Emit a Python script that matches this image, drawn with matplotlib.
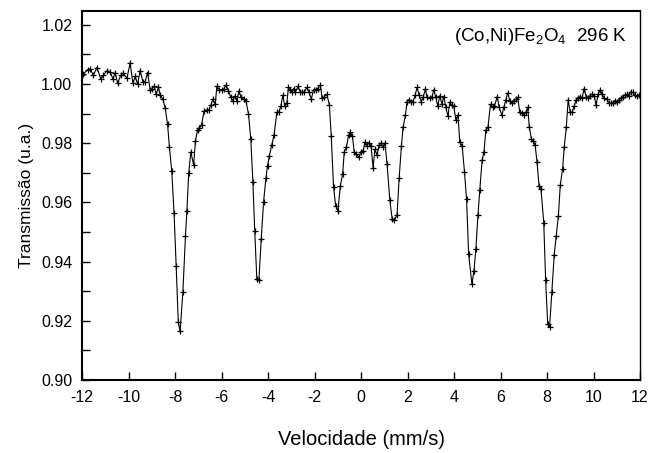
import matplotlib
matplotlib.use("Agg")
import matplotlib.pyplot as plt
from matplotlib.ticker import MultipleLocator

plt.rcParams['font.family'] = ['Liberation Sans', 'DejaVu Sans']
plt.rcParams['mathtext.fontset'] = 'custom'
plt.rcParams['mathtext.rm'] = 'Liberation Sans'
plt.rcParams['mathtext.default'] = 'regular'

velocity = [
    -11.98, -11.94, -11.76, -11.65, -11.51, -11.36, -11.19, -11.08, -10.93, -10.79, -10.67, -10.57,
    -10.47, -10.33, -10.22, -10.07, -9.93, -9.81, -9.71, -9.61, -9.50, -9.38, -9.28, -9.18,
    -9.07, -9.00, -8.90, -8.81, -8.71, -8.64, -8.52, -8.42, -8.32, -8.24, -8.14, -8.04,
    -7.95, -7.86, -7.78, -7.66, -7.55, -7.49, -7.41, -7.32, -7.20, -7.12, -7.03, -6.95,
    -6.86, -6.75, -6.63, -6.54, -6.46, -6.37, -6.27, -6.20, -6.09, -5.99, -5.91, -5.80,
    -5.70, -5.60, -5.51, -5.41, -5.34, -5.25, -5.17, -5.05, -4.95, -4.84, -4.74, -4.65,
    -4.57, -4.48, -4.39, -4.29, -4.19, -4.09, -4.02, -3.94,
    -3.84, -3.74, -3.62, -3.53, -3.45, -3.36, -3.28, -3.19, -3.12, -3.05, -2.96, -2.90,
    -2.82, -2.70, -2.61, -2.53, -2.44, -2.33, -2.24, -2.14, -2.04, -1.95, -1.87, -1.75,
    -1.67, -1.57, -1.47, -1.36, -1.28, -1.18, -1.09, -0.99, -0.89, -0.79, -0.72, -0.63,
    -0.53, -0.46, -0.37, -0.29, -0.20, -0.09, 0.00, 0.09, 0.17, 0.26, 0.34, 0.43,
    0.52, 0.60, 0.69, 0.78, 0.86, 0.95, 1.03, 1.12, 1.24, 1.34, 1.44, 1.55,
    1.64, 1.74, 1.81, 1.91, 1.98, 2.05, 2.16, 2.24, 2.33, 2.41, 2.50, 2.59,
    2.67, 2.77, 2.84, 2.96, 3.06, 3.13, 3.22, 3.30, 3.39, 3.48, 3.56, 3.65,
    3.74, 3.82, 3.91, 3.99, 4.08, 4.17, 4.25, 4.35, 4.45, 4.54, 4.63,
    4.77, 4.86, 4.94, 5.03, 5.11, 5.21, 5.29, 5.37, 5.46, 5.57, 5.66, 5.74,
    5.86, 5.94, 6.06, 6.14, 6.23, 6.31, 6.40, 6.50, 6.57, 6.66, 6.74, 6.83,
    6.91, 7.00, 7.09, 7.17, 7.24, 7.33, 7.40, 7.49, 7.57, 7.66, 7.74, 7.86,
    7.94, 8.03, 8.11, 8.21, 8.31, 8.40, 8.49, 8.57, 8.67, 8.74, 8.83, 8.91,
    9.00, 9.09, 9.17, 9.26, 9.34, 9.43, 9.51, 9.60, 9.69, 9.77, 9.86, 9.94,
    10.03, 10.11, 10.20, 10.29, 10.37, 10.46, 10.57, 10.66, 10.74, 10.83, 10.91, 11.00,
    11.09, 11.17, 11.26, 11.34, 11.43, 11.51, 11.60, 11.69, 11.77, 11.86, 11.94,
]

transmission = [
    1.0030, 1.0034, 1.0048, 1.0051, 1.0030, 1.0056, 1.0017, 1.0030, 1.0045, 1.0042, 1.0017, 1.0039,
    1.0003, 1.0030, 1.0037, 1.0019, 1.0071, 1.0003, 1.0026, 1.0000, 1.0045, 1.0008, 1.0008, 1.0039,
    0.9981, 0.9985, 0.9992, 0.9966, 0.9989, 0.9963, 0.9949, 0.9918, 0.9865, 0.9786, 0.9707, 0.9563,
    0.9386, 0.9197, 0.9164, 0.9299, 0.9487, 0.9570, 0.9699, 0.9771, 0.9727, 0.9808, 0.9845, 0.9851,
    0.9861, 0.9910, 0.9913, 0.9912, 0.9929, 0.9949, 0.9932, 0.9992, 0.9981, 0.9981, 0.9983, 0.9997,
    0.9977, 0.9955, 0.9944, 0.9961, 0.9944, 0.9977, 0.9958, 0.9949, 0.9944, 0.9899, 0.9814, 0.9670,
    0.9502, 0.9341, 0.9339, 0.9478, 0.9602, 0.9682, 0.9724, 0.9758,
    0.9794, 0.9828, 0.9904, 0.9906, 0.9925, 0.9963, 0.9925, 0.9936, 0.9989, 0.9981, 0.9972, 0.9985,
    0.9974, 0.9992, 0.9972, 0.9974, 0.9972, 0.9989, 0.9974, 0.9949, 0.9981, 0.9981, 0.9985, 0.9997,
    0.9952, 0.9958, 0.9966, 0.9929, 0.9825, 0.9651, 0.9589, 0.9571, 0.9656, 0.9696, 0.9771, 0.9786,
    0.9828, 0.9837, 0.9825, 0.9769, 0.9763, 0.9752, 0.9771, 0.9775, 0.9803, 0.9792, 0.9801, 0.9792,
    0.9718, 0.9780, 0.9760, 0.9794, 0.9801, 0.9786, 0.9801, 0.9730, 0.9608, 0.9544, 0.9541, 0.9557,
    0.9682, 0.9792, 0.9854, 0.9895, 0.9940, 0.9947, 0.9940, 0.9940, 0.9963, 0.9989, 0.9963, 0.9940,
    0.9955, 0.9983, 0.9955, 0.9952, 0.9958, 0.9981, 0.9955, 0.9925, 0.9961, 0.9932, 0.9958, 0.9921,
    0.9891, 0.9938, 0.9929, 0.9925, 0.9879, 0.9895, 0.9803, 0.9792, 0.9704, 0.9611, 0.9425,
    0.9324, 0.9370, 0.9442, 0.9557, 0.9643, 0.9744, 0.9771, 0.9845, 0.9854, 0.9932, 0.9921, 0.9925,
    0.9958, 0.9921, 0.9895, 0.9921, 0.9947, 0.9970, 0.9944, 0.9936, 0.9944, 0.9949, 0.9955, 0.9904,
    0.9902, 0.9895, 0.9904, 0.9921, 0.9854, 0.9814, 0.9808, 0.9794, 0.9737, 0.9656, 0.9647, 0.9532,
    0.9339, 0.9189, 0.9178, 0.9299, 0.9422, 0.9487, 0.9555, 0.9658, 0.9713, 0.9786, 0.9854, 0.9947,
    0.9904, 0.9906, 0.9927, 0.9947, 0.9952, 0.9958, 0.9954, 0.9985, 0.9955, 0.9952, 0.9961, 0.9966,
    0.9961, 0.9929, 0.9966, 0.9981, 0.9966, 0.9952, 0.9949, 0.9936, 0.9936, 0.9936, 0.9944, 0.9938,
    0.9947, 0.9952, 0.9958, 0.9963, 0.9966, 0.9961, 0.9974, 0.9972, 0.9963, 0.9961, 0.9963,
]

x_ticks = [-12, -10, -8, -6, -4, -2, 0, 2, 4, 6, 8, 10, 12]
y_ticks = [0.90, 0.92, 0.94, 0.96, 0.98, 1.00, 1.02]
x_label = "Velocidade (mm/s)"
y_label = "Transmissão (u.a.)"
sample_label = "(Co,Ni)Fe$_2$O$_4$  296 K"

fig = plt.figure(figsize=(6.53, 4.53), dpi=100)
ax = fig.add_axes([82/653, 1 - 380/453, (640 - 82)/653, (380 - 11)/453])

ax.plot(velocity, transmission, color='black', lw=0.8, marker='+',
        markersize=5, markeredgewidth=0.9)

ax.set_xlim(-12, 12)
ax.set_ylim(0.90, 1.0247)
ax.set_xticks(x_ticks)
ax.set_xticklabels([str(t) for t in x_ticks])
ax.set_yticks(y_ticks)
ax.set_yticklabels([f"{t:.2f}" for t in y_ticks])
ax.yaxis.set_minor_locator(MultipleLocator(0.01))

ax.tick_params(axis='both', which='major', direction='in', length=6, width=1.0,
               labelsize=11.5, top=False, right=False)
ax.tick_params(axis='x', pad=7)
ax.tick_params(axis='y', pad=7)
ax.tick_params(axis='y', which='minor', direction='in', length=6, width=1.0,
               right=False)

for side in ['left', 'bottom', 'top']:
    ax.spines[side].set_linewidth(1.5)
ax.spines['right'].set_linewidth(1.0)

ax.set_xlabel(x_label, fontsize=14.5, labelpad=18)
ax.set_ylabel(y_label, fontsize=12.5, labelpad=5)

ax.text(0.977, 0.93, sample_label, transform=ax.transAxes, ha='right',
        va='center', fontsize=13.5)

fig.savefig("out.png", dpi=100)
